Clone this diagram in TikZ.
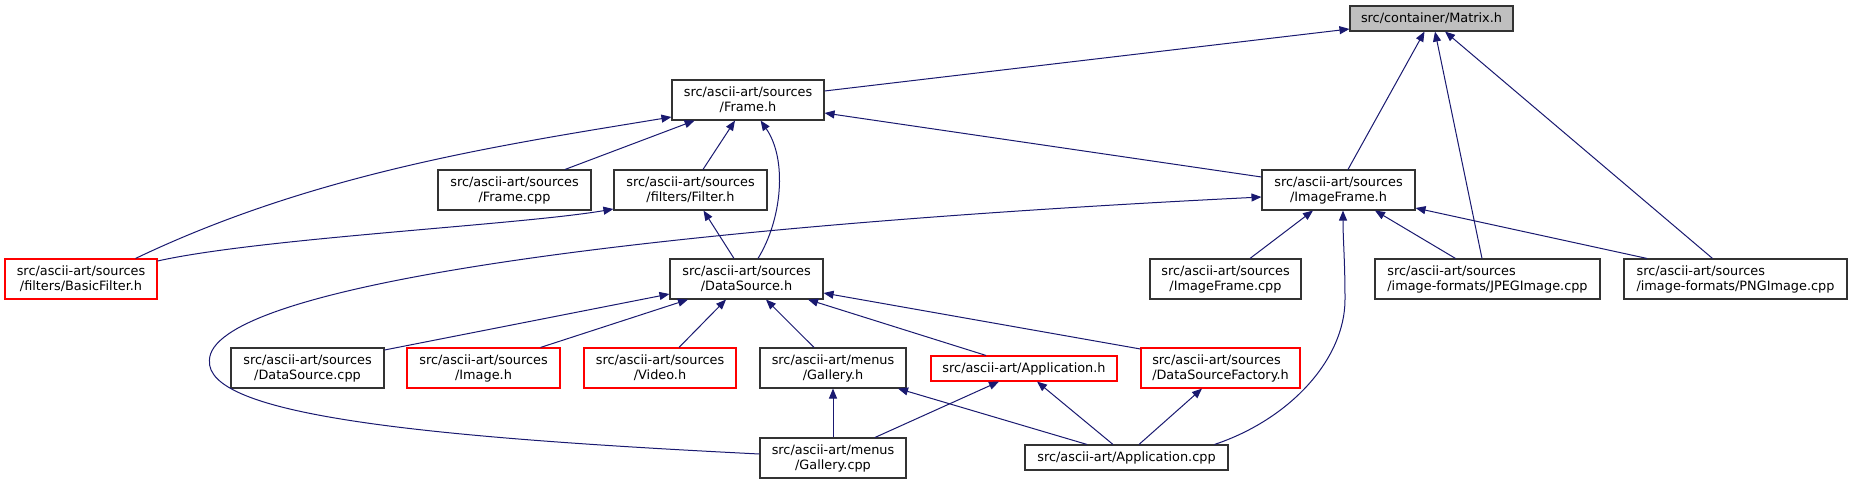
\documentclass[tikz,border=0pt]{standalone}
\usepackage{fontspec}
\setmainfont{DejaVu Sans}
\usetikzlibrary{arrows.meta}
\newcommand{\dgfont}{\fontsize{12.85pt}{15pt}\selectfont}
\definecolor{edgeblue}{HTML}{191970}
\definecolor{boxred}{HTML}{FF0000}
\definecolor{boxgrey}{HTML}{BFBFBF}
\tikzset{
  box/.style={draw=black!80, line width=1.1pt, fill=white, inner sep=0pt,
    minimum height=40pt, align=center, font=\dgfont, text=black},
  redbox/.style={box, draw=boxred},
  onebox/.style={box, minimum height=25pt},
  dep/.style={draw=edgeblue, line width=1pt, -{Triangle[length=10pt,width=8pt]}}
}
\begin{document}
\begin{tikzpicture}[x=1pt,y=-1pt]
\useasboundingbox[fill=white] (0,0) rectangle (1853,484);
% nodes
\node[onebox, fill=boxgrey, minimum width=163pt] (matrix) at (1431.5,18.5) {src/container/Matrix.h};
\node[box, minimum width=152pt] (frameh) at (748,100) {src/ascii-art/sources\\/Frame.h};
\node[box, minimum width=153pt] (framecpp) at (514.5,190) {src/ascii-art/sources\\/Frame.cpp};
\node[box, minimum width=153pt] (filterh) at (690.5,190) {src/ascii-art/sources\\/filters/Filter.h};
\node[box, minimum width=153pt] (imgframeh) at (1338.5,190) {src/ascii-art/sources\\/ImageFrame.h};
\node[redbox, minimum width=152pt] (basicfilter) at (81,279) {src/ascii-art/sources\\/filters/BasicFilter.h};
\node[box, minimum width=153pt] (dsh) at (746.5,279) {src/ascii-art/sources\\/DataSource.h};
\node[box, minimum width=151pt] (imgframecpp) at (1225.5,279) {src/ascii-art/sources\\/ImageFrame.cpp};
\node[box, minimum width=225pt, align=left] (jpeg) at (1487.5,279) {src/ascii-art/sources\\/image-formats/JPEGImage.cpp};
\node[box, minimum width=223pt, align=left] (png) at (1735.5,279) {src/ascii-art/sources\\/image-formats/PNGImage.cpp};
\node[box, minimum width=153pt] (dscpp) at (307.5,368) {src/ascii-art/sources\\/DataSource.cpp};
\node[redbox, minimum width=153pt] (imageh) at (483.5,368) {src/ascii-art/sources\\/Image.h};
\node[redbox, minimum width=152pt] (videoh) at (660,368) {src/ascii-art/sources\\/Video.h};
\node[box, minimum width=146pt] (galleryh) at (833,368) {src/ascii-art/menus\\/Gallery.h};
\node[onebox, draw=boxred, minimum width=186pt] (apph) at (1024,368.5) {src/ascii-art/Application.h};
\node[redbox, minimum width=159pt, align=left] (dsf) at (1220.5,368) {src/ascii-art/sources\\/DataSourceFactory.h};
\node[box, minimum width=146pt] (gallerycpp) at (833,458) {src/ascii-art/menus\\/Gallery.cpp};
\node[onebox, minimum width=203pt] (appcpp) at (1126.5,457.5) {src/ascii-art/Application.cpp};
% edges
\draw[dep] ([yshift=9pt]frameh.east) -- ([yshift=-10.5pt]matrix.west);
\draw[dep] ([xshift=9.5pt]imgframeh.north) -- ([xshift=-7pt]matrix.south);
\draw[dep] ([xshift=-5.5pt]jpeg.north) -- ([xshift=3.5pt]matrix.south);
\draw[dep] ([xshift=-23pt]png.north) -- ([xshift=13.5pt]matrix.south);
\draw[dep] ([xshift=50.5pt]framecpp.north) -- ([xshift=-53.4pt]frameh.south);
\draw[dep] ([xshift=12.5pt]filterh.north) -- ([xshift=-13pt]frameh.south);
\draw[dep] ([xshift=11.5pt]dsh.north) .. controls +(24,-39) and +(27,39) .. ([xshift=12.6pt]frameh.south);
\draw[dep] (basicfilter.north east) ++(-22,0) .. controls +(180,-86) and +(-170,28) .. ([yshift=-17pt]frameh.west);
\draw[dep] ([yshift=13pt]imgframeh.west) -- ([yshift=-13pt]frameh.east);
\draw[dep] ([yshift=18pt]basicfilter.east) .. controls +(103,-23) and +(-94,16) .. ([yshift=-19pt]filterh.west);
\draw[dep] ([xshift=-12.5pt]dsh.north) -- ([xshift=13pt]filterh.south);
\draw[dep] ([yshift=4pt]gallerycpp.west) .. controls +(-340,-17) and +(-5,55) .. ++(-550,-94)
   .. controls +(2,-70) and +(-663,33) .. ([yshift=-7pt]imgframeh.west);
\draw[dep] ([xshift=24.5pt]imgframecpp.north) -- ([xshift=-25.5pt]imgframeh.south);
\draw[dep] ([xshift=88pt]appcpp.north) .. controls +(75,-25) and +(0,60) .. ++(130.5,-145)
   .. controls +(0,-40) and +(0,30) .. ([xshift=4.5pt]imgframeh.south);
\draw[dep] ([xshift=-32pt]jpeg.north) -- ([xshift=36.5pt]imgframeh.south);
\draw[dep] ([xshift=-88.5pt]png.north) -- ([yshift=-18pt]imgframeh.east);
\draw[dep] ([yshift=18pt]dscpp.east) -- ([yshift=-15pt]dsh.west);
\draw[dep] ([xshift=57pt]imageh.north) -- ([xshift=-58.5pt]dsh.south);
\draw[dep] ([xshift=19pt]videoh.north) -- ([xshift=-20.5pt]dsh.south);
\draw[dep] ([xshift=-19pt]galleryh.north) -- ([xshift=19.5pt]dsh.south);
\draw[dep] ([xshift=-38pt]apph.north) -- ([xshift=61.5pt]dsh.south);
\draw[dep] ([yshift=19pt]dsf.west) -- ([yshift=-14pt]dsh.east);
\draw[dep] (gallerycpp.north) -- (galleryh.south);
\draw[dep] ([xshift=-39.5pt]appcpp.north) -- ([xshift=65pt]galleryh.south);
\draw[dep] ([xshift=42pt]gallerycpp.north) -- ([xshift=-25pt]apph.south);
\draw[dep] ([xshift=-13.5pt]appcpp.north) -- ([xshift=13pt]apph.south);
\draw[dep] ([xshift=12.5pt]appcpp.north) -- ([xshift=-18.5pt]dsf.south);
\end{tikzpicture}
\end{document}
